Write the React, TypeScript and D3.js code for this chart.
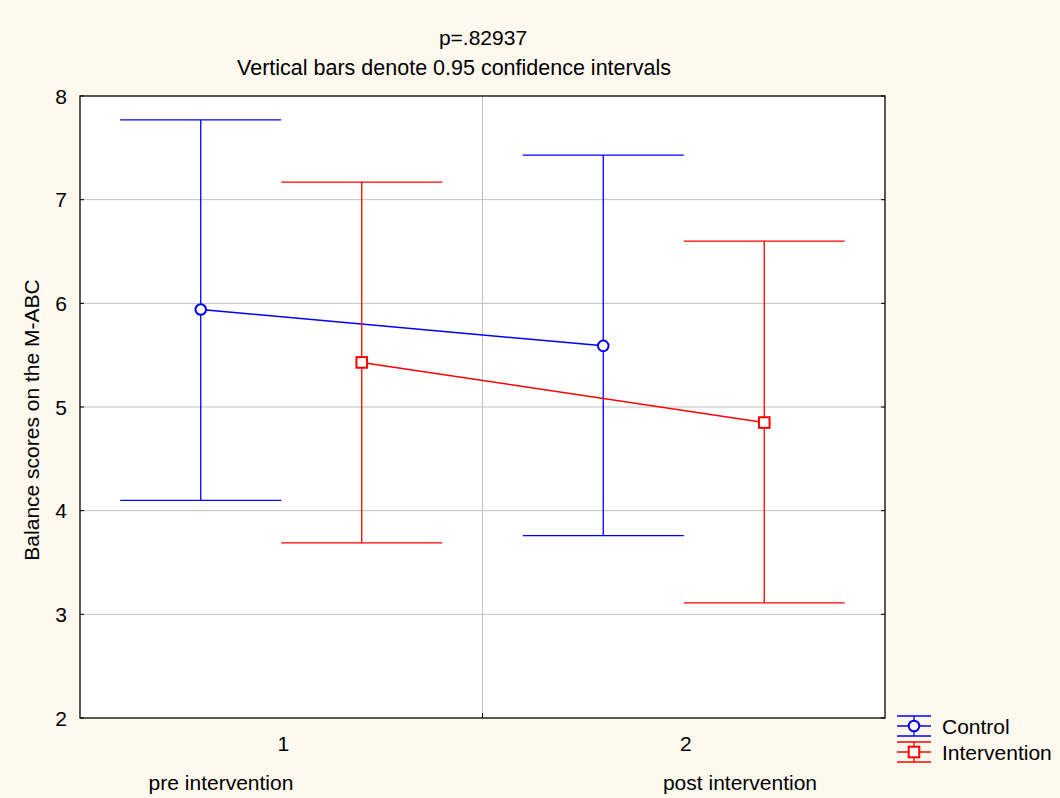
import * as d3 from "d3";
import React, { useEffect, useRef } from "react";

// data
const phases = [1, 2];
const phaseLabels = ["pre intervention", "post intervention"];
const groups = ["Control", "Intervention"];
const controlMean = [5.94, 5.59];
const controlLow = [4.1, 3.76];
const controlHigh = [7.77, 7.43];
const interventionMean = [5.43, 4.85];
const interventionLow = [3.69, 3.11];
const interventionHigh = [7.17, 6.6];
const yTicks = [2, 3, 4, 5, 6, 7, 8];

const App = () => {
  const ref = useRef<SVGSVGElement>(null);

  useEffect(() => {
    const svg = d3.select(ref.current);
    svg.selectAll("*").remove();

    const W = 1060, H = 798;
    const left = 80, right = 885, top = 96, bottom = 718;
    const font = "'Liberation Sans', Arial, sans-serif";
    const fs = "21px";

    svg.append("rect").attr("width", W).attr("height", H).attr("fill", "#fdf9ef");

    const x = d3.scaleLinear().domain([0.5, 2.5]).range([left, right]);
    const y = d3.scaleLinear().domain([2, 8]).range([bottom, top]);

    svg.append("rect")
      .attr("x", left).attr("y", top)
      .attr("width", right - left).attr("height", bottom - top)
      .attr("fill", "#ffffff");

    // grid
    svg.selectAll(".hgrid")
      .data(yTicks.filter((t) => t > 2 && t < 8))
      .enter().append("line")
      .attr("x1", left).attr("x2", right)
      .attr("y1", (d) => y(d)).attr("y2", (d) => y(d))
      .attr("stroke", "#c0c0c0").attr("stroke-width", 1);
    svg.append("line")
      .attr("x1", x(1.5)).attr("x2", x(1.5))
      .attr("y1", top).attr("y2", bottom)
      .attr("stroke", "#c0c0c0").attr("stroke-width", 1);

    // ticks
    yTicks.forEach((t) => {
      svg.append("line").attr("x1", left).attr("x2", left + 4)
        .attr("y1", y(t)).attr("y2", y(t)).attr("stroke", "#000");
      svg.append("line").attr("x1", right - 4).attr("x2", right)
        .attr("y1", y(t)).attr("y2", y(t)).attr("stroke", "#000");
    });
    svg.append("line").attr("x1", x(1.5)).attr("x2", x(1.5))
      .attr("y1", bottom - 5).attr("y2", bottom).attr("stroke", "#000");

    svg.append("rect")
      .attr("x", left).attr("y", top)
      .attr("width", right - left).attr("height", bottom - top)
      .attr("fill", "none").attr("stroke", "#000").attr("stroke-width", 1.3);

    svg.selectAll(".ylab")
      .data(yTicks).enter().append("text")
      .attr("x", left - 13).attr("y", (d) => y(d) + 7.5)
      .attr("text-anchor", "end")
      .style("font-family", font).style("font-size", fs)
      .text((d) => d);

    svg.selectAll(".xlab")
      .data(phases).enter().append("text")
      .attr("x", (d) => x(d) + 2).attr("y", 751)
      .attr("text-anchor", "middle")
      .style("font-family", font).style("font-size", fs)
      .text((d) => d);

    svg.selectAll(".plab")
      .data(phaseLabels).enter().append("text")
      .attr("x", (d, i) => (i === 0 ? 221 : 740)).attr("y", 790)
      .attr("text-anchor", "middle")
      .style("font-family", font).style("font-size", fs)
      .text((d) => d);

    svg.append("text")
      .attr("x", 483).attr("y", 45).attr("text-anchor", "middle")
      .style("font-family", font).style("font-size", fs)
      .text("p=.82937");
    svg.append("text")
      .attr("x", 454).attr("y", 75).attr("text-anchor", "middle")
      .style("font-family", font).style("font-size", "21.5px")
      .text("Vertical bars denote 0.95 confidence intervals");

    svg.append("text")
      .attr("transform", "translate(39,420) rotate(-90)")
      .attr("text-anchor", "middle")
      .style("font-family", font).style("font-size", fs)
      .text("Balance scores on the M-ABC");

    const series = [
      { name: groups[0], color: "#0000ff", off: -0.2, mean: controlMean, lo: controlLow, hi: controlHigh, shape: "circle" },
      { name: groups[1], color: "#ff0000", off: 0.2, mean: interventionMean, lo: interventionLow, hi: interventionHigh, shape: "square" },
    ];

    const marker = (g: any, s: any, cx: number, cy: number) => {
      if (s.shape === "circle") {
        g.append("circle").attr("cx", cx).attr("cy", cy).attr("r", 5.3)
          .attr("fill", "#fff").attr("stroke", s.color).attr("stroke-width", 2);
      } else {
        g.append("rect").attr("x", cx - 5.3).attr("y", cy - 5.3)
          .attr("width", 10.6).attr("height", 10.6)
          .attr("fill", "#fff").attr("stroke", s.color).attr("stroke-width", 2);
      }
    };

    series.forEach((s) => {
      const g = svg.append("g");
      phases.forEach((p, i) => {
        const cx = x(p + s.off);
        g.append("line").attr("x1", cx).attr("x2", cx)
          .attr("y1", y(s.hi[i])).attr("y2", y(s.lo[i]))
          .attr("stroke", s.color).attr("stroke-width", 1.3);
        [s.hi[i], s.lo[i]].forEach((v) => {
          g.append("line")
            .attr("x1", x(p + s.off - 0.2)).attr("x2", x(p + s.off + 0.2))
            .attr("y1", y(v)).attr("y2", y(v))
            .attr("stroke", s.color).attr("stroke-width", 1.3);
        });
      });
      const line = d3.line<number>()
        .x((d, i) => x(phases[i] + s.off))
        .y((d) => y(d));
      g.append("path").attr("d", line(s.mean)!)
        .attr("fill", "none").attr("stroke", s.color).attr("stroke-width", 1.5);
      s.mean.forEach((v, i) => marker(g, s, x(phases[i] + s.off), y(v)));
    });

    // legend
    series.forEach((s, i) => {
      const cy = 726 + i * 26;
      const lx1 = 897, lx2 = 931, mx = (lx1 + lx2) / 2;
      const g = svg.append("g");
      [cy - 10, cy, cy + 10].forEach((ly) => {
        g.append("line").attr("x1", lx1).attr("x2", lx2)
          .attr("y1", ly).attr("y2", ly)
          .attr("stroke", s.color).attr("stroke-width", 1.3);
      });
      g.append("line").attr("x1", mx).attr("x2", mx)
        .attr("y1", cy - 10).attr("y2", cy + 10)
        .attr("stroke", s.color).attr("stroke-width", 1.3);
      marker(g, s, mx, cy);
      g.append("text").attr("x", 942).attr("y", cy + 7.5)
        .style("font-family", font).style("font-size", fs)
        .text(s.name);
    });
  }, []);

  return (
    <svg
      ref={ref}
      width={1060}
      height={798}
      style={{ position: "absolute", left: 0, top: 0, display: "block" }}
    />
  );
};

export default App;
